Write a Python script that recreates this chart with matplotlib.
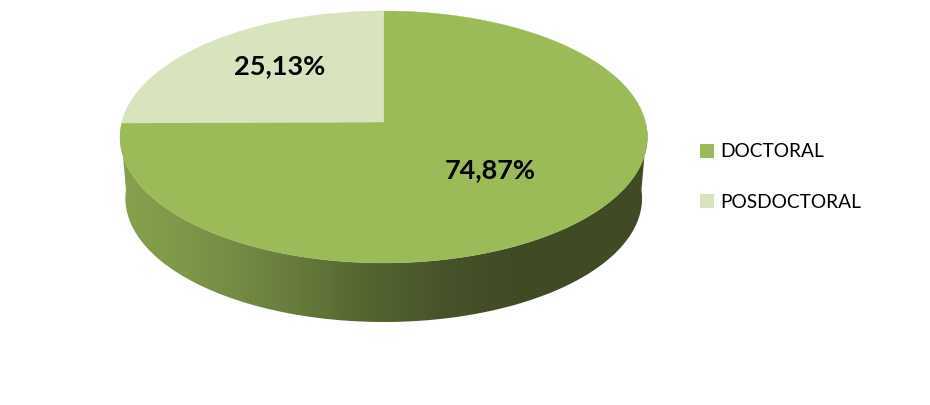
import numpy as np
import matplotlib
matplotlib.use("Agg")
import matplotlib.pyplot as plt
from matplotlib.patches import Patch, Polygon
from matplotlib.colors import LinearSegmentedColormap

categories = ["DOCTORAL", "POSDOCTORAL"]
values = [74.87, 25.13]
colors = ["#9BBB59", "#D7E4BD"]
wall_colors = ["#89A24E", "#7B9448", "#6B8040", "#566730", "#47542A", "#404A25"]

plt.rcParams["font.family"] = ["Lato", "DejaVu Sans"]
fig = plt.figure(figsize=(9.3, 4.05), dpi=100)
ax = fig.add_axes([0, 0, 1, 1])
ax.set_xlim(0, 930)
ax.set_ylim(405, 0)
ax.axis("off")

K = 0.119
CX = 383.7


def project(t, a, b, c):
    """Perspective view of the unit circle; t in radians, math convention."""
    x, y = np.cos(t), np.sin(t)
    w = 1 + K * y
    return CX + a * x / w, c - b * y / w


TOP = (261.8, 124.2, 122.0)
BOT = (256.5, 122.0, 183.5)

# Side wall with horizontal gradient
front = np.radians(np.linspace(183, 357, 300))
xt, yt = project(front, *TOP)
xb, yb = project(front, *BOT)
wall = Polygon(np.r_[np.c_[xt, yt], np.c_[xb, yb][::-1]], closed=True,
               transform=ax.transData, fc="none", ec="none")
ax.add_patch(wall)
cmap = LinearSegmentedColormap.from_list("wall", wall_colors)
img = ax.imshow(np.linspace(0, 1, 512)[None, :], extent=(118, 520, 330, 130),
                cmap=cmap, aspect="auto", zorder=1)
img.set_clip_path(wall)
cap = ax.imshow(np.ones((1, 2)), extent=(520, 650, 330, 130), cmap=cmap, vmin=0, vmax=1,
                aspect="auto", zorder=1)
cap.set_clip_path(wall)
ax.set_xlim(0, 930)
ax.set_ylim(405, 0)

# Top face, slices run clockwise from 12 o'clock
start = np.pi / 2
for v, col in zip(values, colors):
    sweep = 2 * np.pi * v / sum(values)
    t = np.linspace(start, start - sweep, 400)
    x, y = project(t, *TOP)
    ax.fill(np.r_[CX, x], np.r_[TOP[2], y], color=col, lw=0.3, zorder=2)
    start -= sweep

label_xy = [(490.5, 170), (280, 66)]
for v, (lx, ly) in zip(values, label_xy):
    ax.text(lx, ly, f"{v:.2f}%".replace(".", ","), ha="center", va="center",
            fontsize=19.5, fontweight="bold", color="black", zorder=3)

handles = [Patch(fc=c, ec="none") for c in colors]
ax.legend(handles, categories, loc="center left", bbox_to_anchor=(700, 177),
          bbox_transform=ax.transData, frameon=False, fontsize=13.8, handlelength=0.73,
          handleheight=0.73, handletextpad=0.31, labelspacing=1.74, borderpad=0,
          borderaxespad=0)

fig.savefig("out.png", dpi=100, facecolor="white")
